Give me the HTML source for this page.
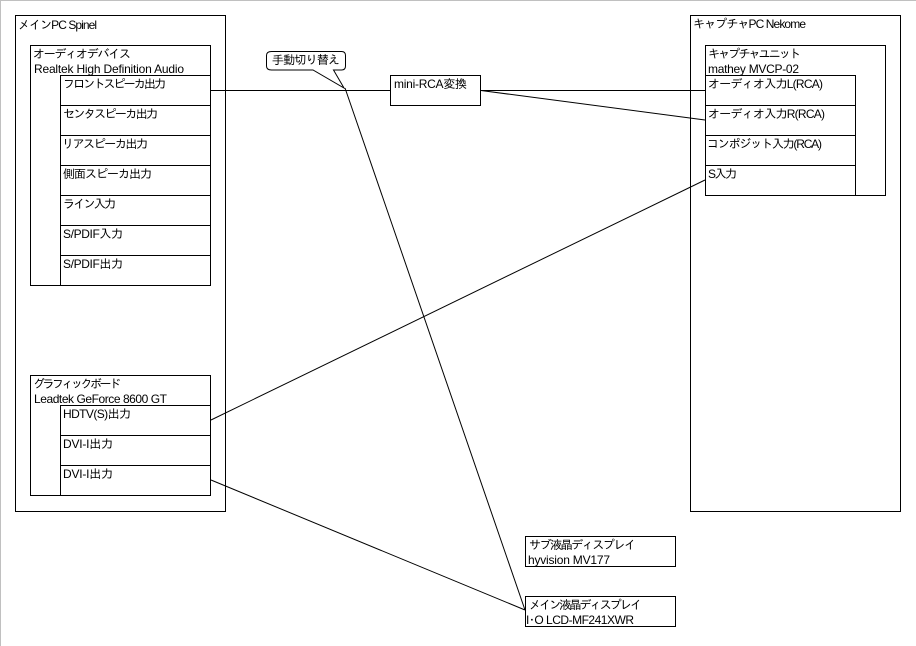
<!DOCTYPE html>
<html lang="ja"><head><meta charset="utf-8"><title>Diagram</title>
<style>
html,body{margin:0;padding:0;background:#fff;width:916px;height:646px;overflow:hidden}
svg{display:block}
text{font-family:"Liberation Sans","IPAGothic","Noto Sans CJK JP",sans-serif;font-size:12px;fill:#000}
.b{fill:#fff;stroke:#000;stroke-width:1}
.l{stroke:#000;stroke-width:1;fill:none}
</style></head><body>
<svg width="916" height="646" viewBox="0 0 916 646" xmlns="http://www.w3.org/2000/svg">
<rect x="0" y="0" width="916" height="1" fill="#c0c0c0"/>
<rect x="0" y="0" width="1" height="646" fill="#c0c0c0"/>
<rect class="b" x="15.5" y="15.5" width="210" height="496"/>
<rect class="b" x="30.5" y="45.5" width="180" height="240"/>
<rect class="b" x="60.5" y="75.5" width="150" height="30"/>
<rect class="b" x="60.5" y="105.5" width="150" height="30"/>
<rect class="b" x="60.5" y="135.5" width="150" height="30"/>
<rect class="b" x="60.5" y="165.5" width="150" height="30"/>
<rect class="b" x="60.5" y="195.5" width="150" height="30"/>
<rect class="b" x="60.5" y="225.5" width="150" height="30"/>
<rect class="b" x="60.5" y="255.5" width="150" height="30"/>
<rect class="b" x="30.5" y="375.5" width="180" height="120"/>
<rect class="b" x="60.5" y="405.5" width="150" height="30"/>
<rect class="b" x="60.5" y="435.5" width="150" height="30"/>
<rect class="b" x="60.5" y="465.5" width="150" height="30"/>
<rect class="b" x="690.5" y="15.5" width="210" height="496"/>
<rect class="b" x="705.5" y="45.5" width="180" height="150"/>
<rect class="b" x="705.5" y="75.5" width="150" height="30"/>
<rect class="b" x="705.5" y="105.5" width="150" height="30"/>
<rect class="b" x="705.5" y="135.5" width="150" height="30"/>
<rect class="b" x="705.5" y="165.5" width="150" height="30"/>
<rect class="b" x="390.5" y="75.5" width="90" height="30"/>
<rect class="b" x="525.5" y="536.5" width="150" height="30"/>
<rect class="b" x="525.5" y="596.5" width="150" height="30"/>
<path class="l" d="M211 90.5H390M481 90.5H705M481 90.5L705 120M211 420L705 180M211 480L525 610M345 88L525 610"/>
<path class="b" d="M271.500 51.500H341.500Q345.500 51.500 345.500 55.500V66Q345.500 70 341.500 70H333.500L344 88L313 70H271.500Q266.500 70 266.500 66V55.500Q266.500 51.500 271.500 51.500Z"/>
<text x="18" y="29" textLength="79">メインPC Spinel</text>
<text x="33" y="58" textLength="98">オーディオデバイス</text>
<text x="34" y="73" textLength="150">Realtek High Definition Audio</text>
<text x="63" y="88" textLength="103">フロントスピーカ出力</text>
<text x="63" y="118" textLength="95">センタスピーカ出力</text>
<text x="62" y="148" textLength="86">リアスピーカ出力</text>
<text x="63" y="178" textLength="89">側面スピーカ出力</text>
<text x="63" y="208" textLength="53">ライン入力</text>
<text x="63" y="238" textLength="60">S/PDIF入力</text>
<text x="63" y="268" textLength="60">S/PDIF出力</text>
<text x="33" y="388" textLength="88">グラフィックボード</text>
<text x="34" y="403" textLength="133">Leadtek GeForce 8600 GT</text>
<text x="63" y="418" textLength="68">HDTV(S)出力</text>
<text x="63" y="448" textLength="50">DVI-I出力</text>
<text x="63" y="478" textLength="50">DVI-I出力</text>
<text x="693" y="28" textLength="113">キャプチャPC Nekome</text>
<text x="708" y="58" textLength="93">キャプチャユニット</text>
<text x="708" y="73" textLength="91">mathey MVCP-02</text>
<text x="708" y="88" textLength="115">オーディオ入力L(RCA)</text>
<text x="708" y="118" textLength="117">オーディオ入力R(RCA)</text>
<text x="707" y="148" textLength="115">コンポジット入力(RCA)</text>
<text x="708" y="178" textLength="29">S入力</text>
<text x="529" y="549" textLength="107">サブ液晶ディスプレイ</text>
<text x="528" y="564" textLength="82">hyvision MV177</text>
<text x="529" y="609" textLength="113">メイン液晶ディスプレイ</text>
<text x="526" y="624" textLength="108">I･O LCD-MF241XWR</text>
<text x="272" y="64" textLength="68">手動切り替え</text>
<text x="394" y="88" textLength="73">mini-RCA変換</text>
</svg>
</body></html>
